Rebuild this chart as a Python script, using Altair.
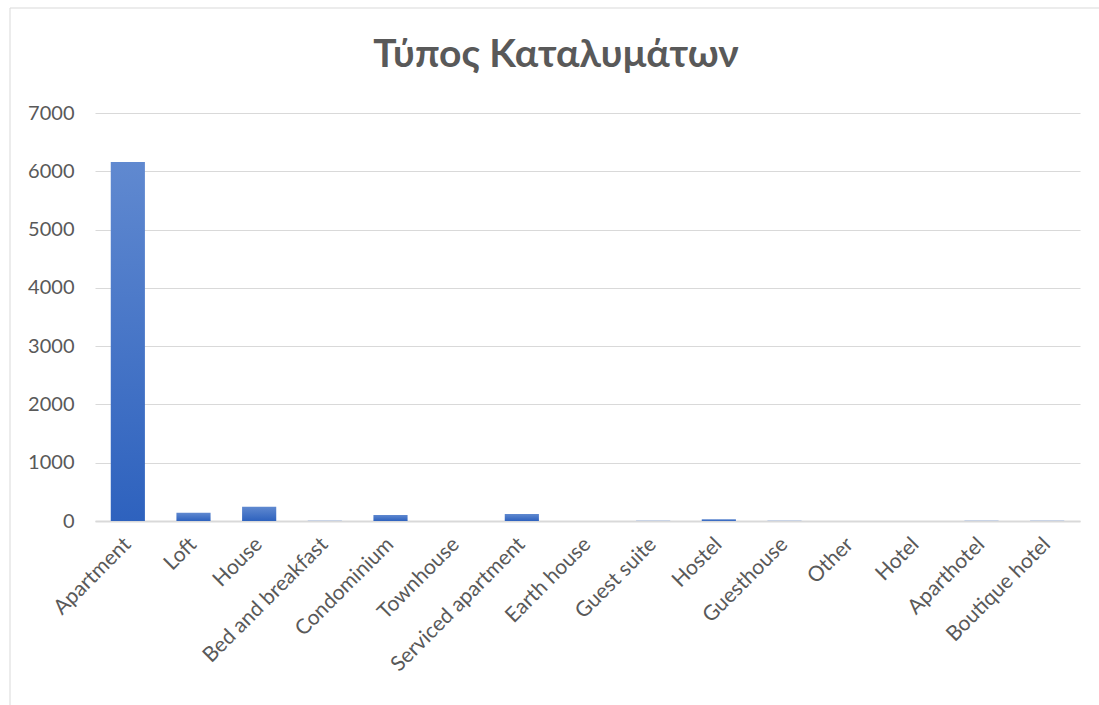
import altair as alt
import pandas as pd

categories = ["Apartment", "Loft", "House", "Bed and breakfast", "Condominium",
              "Townhouse", "Serviced apartment", "Earth house", "Guest suite", "Hostel",
              "Guesthouse", "Other", "Hotel", "Aparthotel", "Boutique hotel"]
counts = [6160, 140, 245, 5, 105, 2, 120, 1, 3, 30, 5, 1, 1, 4, 4]
title_text = "Τύπος Καταλυμάτων"

df = pd.DataFrame({"type": categories, "count": counts})

FONT = "Lato"
GRAY = "#595959"

bars = alt.Chart(df).mark_bar(
    color=alt.Gradient(
        gradient="linear", x1=0, x2=0, y1=0, y2=1,
        stops=[alt.GradientStop(color="#6089d0", offset=0),
               alt.GradientStop(color="#2e62be", offset=1)]
    )
).encode(
    x=alt.X("type:N", sort=categories, title=None,
            scale=alt.Scale(paddingInner=0.48, paddingOuter=0.24),
            axis=alt.Axis(labelAngle=-45, labelAlign="right", labelBaseline="middle",
                          labelFontSize=21, labelColor=GRAY, labelFont=FONT,
                          labelPadding=20, ticks=False, domainColor="#d9d9d9",
                          domainWidth=2, labelLimit=300)),
    y=alt.Y("count:Q", title=None,
            scale=alt.Scale(domain=[0, 7000]),
            axis=alt.Axis(values=[0, 1000, 2000, 3000, 4000, 5000, 6000, 7000],
                          format="d",
                          labelFontSize=20, labelColor=GRAY, labelFont=FONT,
                          labelPadding=21, ticks=False, domain=False,
                          gridColor="#d9d9d9", gridWidth=1))
)

border = alt.Chart(pd.DataFrame({"a": [0]})).mark_rect(
    fill=None, stroke="#d9d9d9", strokeWidth=1, clip=False
).encode(x=alt.value(-85), x2=alt.value(1010), y=alt.value(-105), y2=alt.value(600))

title = alt.Chart(pd.DataFrame({"t": [title_text]})).mark_text(
    font=FONT, fontSize=39, fontWeight="bold", color=GRAY,
    align="center", baseline="middle", clip=False
).encode(text="t:N", x=alt.value(461), y=alt.value(-58))

chart = alt.layer(border, bars, title).properties(
    width=985, height=408,
    autosize=alt.AutoSizeParams(type="none"),
    padding={"left": 95, "top": 113, "right": 19, "bottom": 184},
).configure_view(stroke=None)

chart.save("out.html", embed_options={"renderer": "svg", "actions": False})
